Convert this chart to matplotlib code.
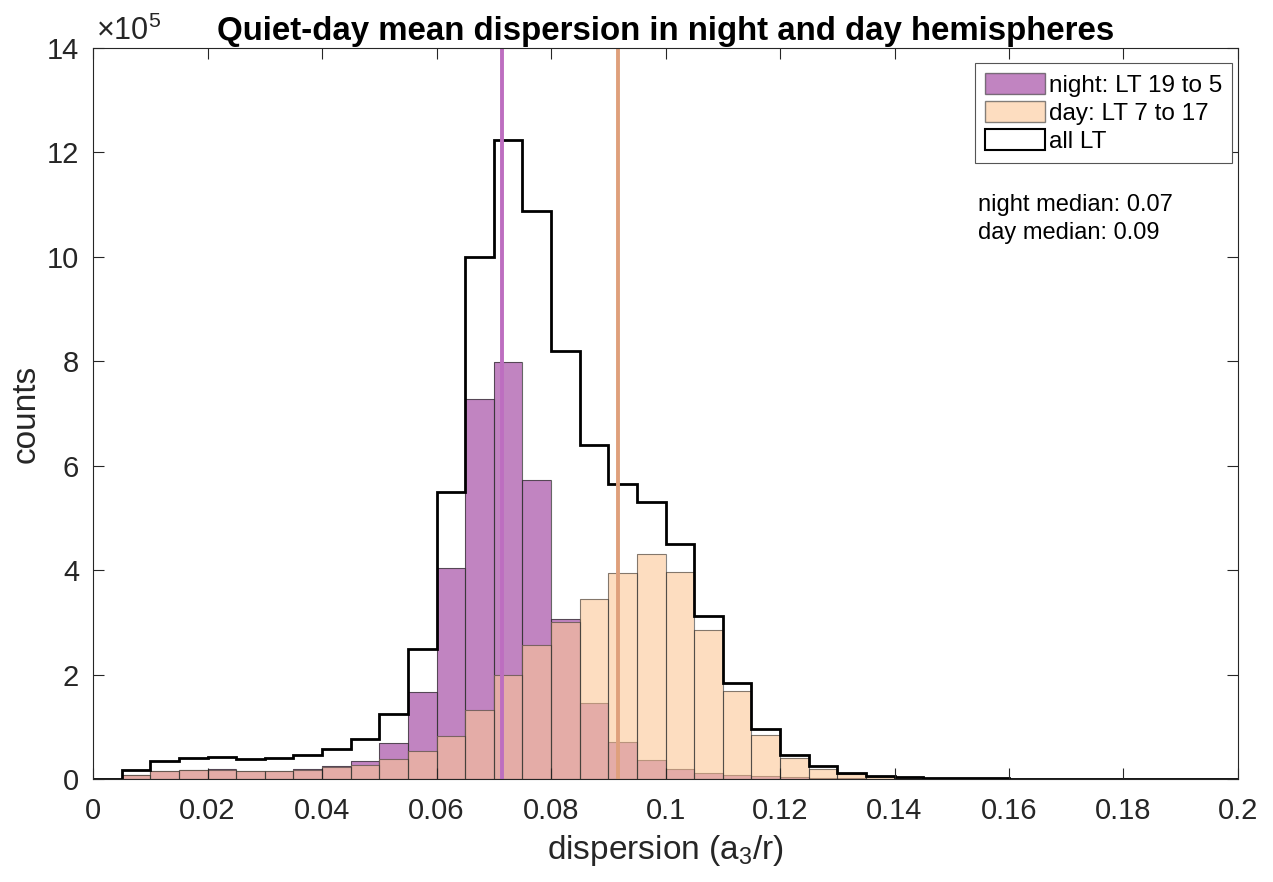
import numpy as np
import matplotlib
matplotlib.use("Agg")
import matplotlib.pyplot as plt
from matplotlib.patches import Patch

plt.rcParams['font.family'] = ['Liberation Sans', 'DejaVu Sans']
plt.rcParams['mathtext.fontset'] = 'custom'
plt.rcParams['mathtext.rm'] = 'Liberation Sans'
plt.rcParams['mathtext.it'] = 'Liberation Sans'

# bin edges: 0 to 0.2 in steps of 0.005 (40 bins)
bin_edges = np.linspace(0, 0.2, 41)

# counts per bin, in units of 1e5
night_counts = [0, 0.08, 0.15, 0.17, 0.19, 0.16, 0.16, 0.19, 0.25, 0.34,
                0.68, 1.67, 4.04, 7.28, 7.98, 5.72, 3.06, 1.46, 0.70, 0.36,
                0.19, 0.12, 0.08, 0.06, 0.03, 0.02, 0.01, 0.005, 0.003, 0.002,
                0.001, 0.001, 0, 0, 0, 0, 0, 0, 0, 0]
day_counts = [0, 0.07, 0.15, 0.17, 0.18, 0.15, 0.15, 0.17, 0.23, 0.27,
              0.38, 0.53, 0.83, 1.33, 1.99, 2.57, 3.01, 3.44, 3.94, 4.31,
              3.96, 2.85, 1.68, 0.85, 0.41, 0.20, 0.09, 0.04, 0.02, 0.01,
              0.007, 0.005, 0.003, 0.002, 0.001, 0.001, 0, 0, 0, 0]
all_counts = [0, 0.17, 0.35, 0.41, 0.42, 0.38, 0.40, 0.45, 0.58, 0.77,
              1.24, 2.49, 5.49, 10.0, 12.24, 10.88, 8.2, 6.39, 5.65, 5.30,
              4.50, 3.12, 1.83, 0.95, 0.46, 0.24, 0.12, 0.06, 0.03, 0.02,
              0.015, 0.01, 0.006, 0.004, 0.003, 0.003, 0.002, 0.002, 0.002, 0.002]

night_median = 0.0714
day_median = 0.0917

night_color = (0.6, 0.2, 0.6)
day_color = (0.99, 0.78, 0.59)

fig = plt.figure(figsize=(12.73, 8.82), dpi=100)
ax = fig.add_axes([0.0731, 0.1168, 0.8994, 0.8288])

width = bin_edges[1] - bin_edges[0]
ax.bar(bin_edges[:-1], night_counts, width=width, align='edge',
       color=night_color, alpha=0.6, edgecolor='none')
ax.bar(bin_edges[:-1], night_counts, width=width, align='edge',
       fill=False, edgecolor=(0.2, 0.2, 0.2, 0.75), linewidth=0.8)
ax.bar(bin_edges[:-1], day_counts, width=width, align='edge',
       color=day_color, alpha=0.6, edgecolor='none')
ax.bar(bin_edges[:-1], day_counts, width=width, align='edge',
       fill=False, edgecolor=(0.2, 0.2, 0.2, 0.6), linewidth=0.8)
ax.stairs(all_counts, bin_edges, color='black', linewidth=2)

ax.axvline(night_median, color='#BD6EC0', linewidth=2.8)
ax.axvline(day_median, color='#DFA07C', linewidth=2.8)

ax.set_xlim(0, 0.2)
ax.set_ylim(0, 14)
ax.set_xticks(np.arange(0, 0.201, 0.02))
ax.set_xticklabels(['0', '0.02', '0.04', '0.06', '0.08', '0.1', '0.12',
                    '0.14', '0.16', '0.18', '0.2'])
ax.set_yticks(np.arange(0, 15, 2))
ax.tick_params(direction='in', length=8, width=0.8, top=True, right=True,
               labelsize=21, colors='#262626')
ax.tick_params(axis='x', pad=13)
ax.tick_params(axis='y', pad=10)
for sp in ax.spines.values():
    sp.set_color('#262626')
    sp.set_linewidth(0.8)

ax.text(0.003, 1.002, r'$\times10^5$', transform=ax.transAxes, fontsize=22,
        color='#262626', ha='left', va='bottom')

ax.set_title('Quiet-day mean dispersion in night and day hemispheres',
             fontsize=23.8, fontweight='bold', pad=6)
ax.set_xlabel(r'dispersion (a$_3$/r)', fontsize=24, color='#262626', labelpad=6)
ax.set_ylabel('counts', fontsize=24, color='#262626', labelpad=4)

handles = [
    Patch(facecolor=night_color, alpha=0.6, edgecolor='#333333', label='night: LT 19 to 5'),
    Patch(facecolor=day_color, alpha=0.6, edgecolor='#333333', label='day: LT 7 to 17'),
    Patch(facecolor='white', edgecolor='black', linewidth=1.5, label='all LT'),
]
leg = ax.legend(handles=handles, loc='upper right',
                bbox_to_anchor=(0.9948, 0.9795), borderaxespad=0,
                fontsize=17.5, fancybox=False, framealpha=1, edgecolor='#555555',
                handlelength=2.5, handleheight=0.95, handletextpad=0.15,
                labelspacing=0.18, borderpad=0.4)
leg.get_frame().set_linewidth(0.8)

ax.text(0.773, 0.80, 'night median: 0.07\nday median: 0.09',
        transform=ax.transAxes, fontsize=17, ha='left', va='top',
        linespacing=1.35)

fig.savefig('out.png', dpi=100)
